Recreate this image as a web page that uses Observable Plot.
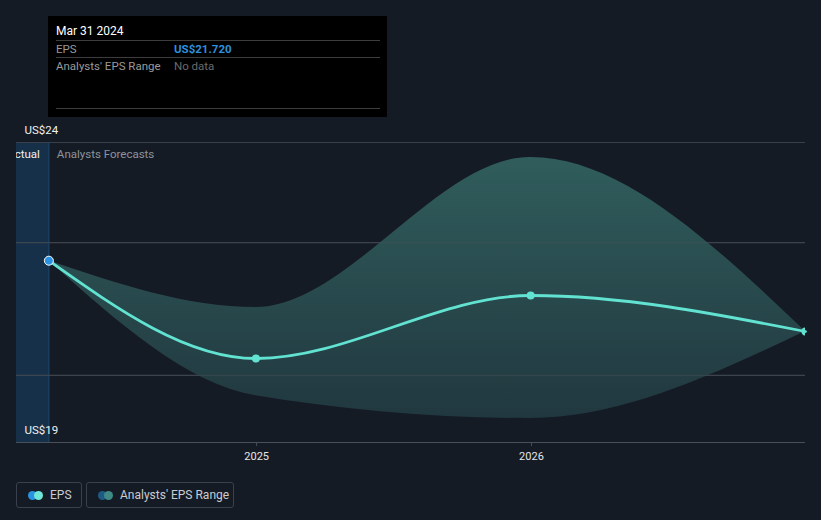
<!DOCTYPE html>
<html>
<head>
<meta charset="utf-8">
<script src="https://cdn.jsdelivr.net/npm/d3@7"></script>
<script src="https://cdn.jsdelivr.net/npm/@observablehq/plot@0.6"></script>
<style>
  html, body { margin: 0; padding: 0; background: #151b25; }
  body { width: 821px; height: 520px; position: relative; overflow: hidden; font-family: Roboto, "Open Sans", sans-serif; }
  #chart { position: absolute; left: 0; top: 0; }
  #tip { position: absolute; left: 48px; top: 16px; width: 339px; height: 101px; background: #000; color: #fff; font-size: 11.5px; }
  #tip .row { position: absolute; left: 8px; width: 324px; }
  #tip .sep { position: absolute; left: 8px; width: 324px; height: 1px; background: #3d3d3d; }
  .legend { position: absolute; top: 482px; height: 26px; border: 1px solid #3a414c; border-radius: 3px; box-sizing: border-box; color: #c9ccd1; font-size: 12px; line-height: 24px; }
  .legend .d { position: absolute; top: 8px; width: 9px; height: 9px; border-radius: 50%; }
  .legend span.t { position: absolute; top: 0; }
</style>
</head>
<body>
<div id="chart"></div>
<div id="tip"></div>
<div id="legend"></div>
<script>
// ---- data ----
const dates = ["2024-03-31", "2024-12-31", "2025-12-31", "2026-12-31"];
const eps = [22.03, 20.4, 21.45, 20.85];
const epsLow = [22.03, 19.78, 19.4, 20.85];
const epsHigh = [22.03, 21.25, 23.75, 20.85];
const xDomainDates = ["2024-02-17", "2026-12-31"];
const yDomain = [19, 24];
const yLabelTicks = [24, 19];
const gridValues = [24, 22.33, 20.12, 19];
const xTickYears = ["2025-01-01", "2026-01-01"];
const tooltipDate = "Mar 31 2024";
const tooltipEps = "US$21.720";
const legendLabels = ["EPS", "Analysts' EPS Range"];

const parse = s => new Date(s + "T00:00:00");
const rows = dates.map((d, i) => ({date: parse(d), eps: eps[i], low: epsLow[i], high: epsHigh[i]}));
const actual = rows.slice(0, 1);
const forecast = rows.slice(1);

const plot = Plot.plot({
  width: 821,
  height: 470,
  marginLeft: 16,
  marginRight: 16,
  marginTop: 142,
  marginBottom: 28,
  style: {background: "transparent", fontFamily: "Roboto, sans-serif", fontSize: "11px", color: "#e6e6e6"},
  x: {type: "utc", domain: xDomainDates.map(parse), ticks: xTickYears.map(parse), tickFormat: d => d3.utcFormat("%Y")(d), tickSize: 4, tickPadding: 6, label: null},
  y: {domain: yDomain, axis: null},
  marks: [
    Plot.rect([0], {x1: () => parse(xDomainDates[0]), x2: () => rows[0].date, fill: "#16304a"}),
    Plot.ruleX([rows[0].date], {stroke: "#1d4e75", strokeWidth: 1}),
    Plot.ruleY(gridValues.slice(0, 3), {stroke: "#3a404b", strokeWidth: 1}),
    Plot.areaY(rows, {x: "date", y1: "low", y2: "high", fill: "url(#bandGrad)", curve: "monotone-x"}),
    Plot.ruleY(gridValues.slice(1, 3), {stroke: "#4b555c", strokeOpacity: 0.5, strokeWidth: 1}),
    Plot.lineY(rows, {x: "date", y: "eps", stroke: "#62e3d2", strokeWidth: 2.8, curve: "monotone-x"}),
    Plot.dot(forecast, {x: "date", y: "eps", r: 4, fill: "#62e3d2", clip: "frame"}),
    Plot.dot(actual, {x: "date", y: "eps", r: 4.5, fill: "#2a92e0", stroke: "#ffffff", strokeWidth: 1}),
    Plot.text(yLabelTicks, {y: d => d, text: d => "US$" + d, frameAnchor: "left", dx: 8, dy: -12, fill: "#f0f0f0", textAnchor: "start", fontSize: 11.5}),
    Plot.text([0], {x: () => rows[0].date, frameAnchor: "top", dy: 7, dx: -9, text: () => "Actual", textAnchor: "end", fill: "#f0f0f0", fontSize: 11.5, clip: "frame"}),
    Plot.text([0], {x: () => rows[0].date, frameAnchor: "top", dy: 7, dx: 8, text: () => "Analysts Forecasts", textAnchor: "start", fill: "#8e939a", fontSize: 11.5}),
    Plot.axisX({ticks: xTickYears.map(parse), tickFormat: d => d3.utcFormat("%Y")(d), stroke: "#4a505a", fill: "#e6e6e6", tickSize: 4, tickPadding: 6, label: null, fontSize: 11}),
    Plot.ruleY([yDomain[0]], {stroke: "#4a505a", strokeWidth: 1})
  ]
});

const svg = d3.select(plot);
const defs = svg.insert("defs", ":first-child");
const g = defs.append("linearGradient").attr("id", "bandGrad").attr("gradientUnits", "userSpaceOnUse")
  .attr("x1", 0).attr("x2", 0).attr("y1", 142).attr("y2", 442);
g.append("stop").attr("offset", "0%").attr("stop-color", "#315f5e");
g.append("stop").attr("offset", "100%").attr("stop-color", "#1f343c");
document.getElementById("chart").appendChild(plot);

// tooltip
const tip = document.getElementById("tip");
tip.innerHTML = `
  <div class="row" style="top:8px;color:#fff;font-size:12px;">${tooltipDate}</div>
  <div class="sep" style="top:24px"></div>
  <div class="row" style="top:26px;color:#9a9a9a;">EPS<span style="position:absolute;left:118px;color:#2e8fdb;font-weight:bold;">${tooltipEps}</span></div>
  <div class="sep" style="top:41px"></div>
  <div class="row" style="top:43px;color:#9a9a9a;">Analysts' EPS Range<span style="position:absolute;left:118px;color:#6a6a6a;">No data</span></div>
  <div class="sep" style="top:92px"></div>`;

// legend
const leg = document.getElementById("legend");
leg.innerHTML = `
  <div class="legend" style="left:16px;width:66px;">
    <div class="d" style="left:11px;background:#2a92e0"></div>
    <div class="d" style="left:17px;background:#6fe6d6"></div>
    <span class="t" style="left:33px">${legendLabels[0]}</span>
  </div>
  <div class="legend" style="left:86px;width:148px;">
    <div class="d" style="left:11px;background:#1f5a85"></div>
    <div class="d" style="left:17px;background:#3f8a84"></div>
    <span class="t" style="left:33px">${legendLabels[1]}</span>
  </div>`;
</script>
</body>
</html>
